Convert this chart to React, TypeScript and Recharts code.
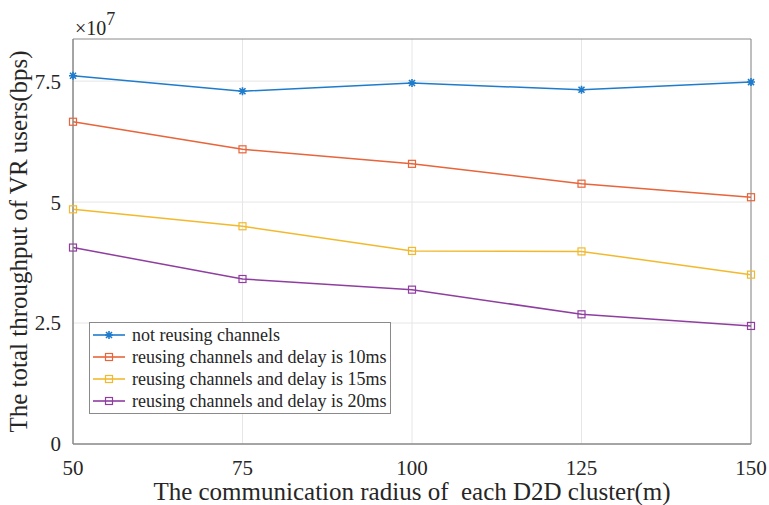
import {
  LineChart,
  Line,
  XAxis,
  YAxis,
  CartesianGrid,
  Label,
  ReferenceArea,
} from 'recharts'

// x: communication radius of each D2D cluster (m)
const radius = [50, 75, 100, 125, 150]
// y: total throughput, in units of 1e7 bps
const notReusing = [7.61, 7.29, 7.46, 7.32, 7.48]
const delay10 = [6.66, 6.09, 5.79, 5.38, 5.1]
const delay15 = [4.85, 4.5, 3.99, 3.98, 3.5]
const delay20 = [4.06, 3.41, 3.19, 2.68, 2.44]

const xTicks = [50, 75, 100, 125, 150]
const yTicks = [0, 2.5, 5, 7.5]
const yTop = 8.37

const SERIES = [
  { key: 'notReusing', label: 'not reusing channels', color: '#1f7ccc', marker: 'star', values: notReusing },
  { key: 'delay10', label: 'reusing channels and delay is 10ms', color: '#e8643a', marker: 'square', values: delay10 },
  { key: 'delay15', label: 'reusing channels and delay is 15ms', color: '#f2b92d', marker: 'square', values: delay15 },
  { key: 'delay20', label: 'reusing channels and delay is 20ms', color: '#8f3ea0', marker: 'square', values: delay20 },
]

const data = radius.map((r, i) => {
  const row: Record<string, number> = { r }
  SERIES.forEach((s) => {
    row[s.key] = s.values[i]
  })
  return row
})

const FONT = '"Liberation Serif", "Times New Roman", serif'
const TEXT = '#262626'
const tickStyle = { fill: TEXT, fontSize: 21, fontFamily: FONT }

function Marker({ cx, cy, color, kind }: { cx: number; cy: number; color: string; kind: string }) {
  if (cx == null || cy == null) return null
  if (kind === 'star') {
    const d = `M${cx - 4},${cy} L${cx + 4},${cy} M${cx},${cy - 4} L${cx},${cy + 4} M${cx - 3},${cy - 3} L${cx + 3},${cy + 3} M${cx - 3},${cy + 3} L${cx + 3},${cy - 3}`
    return <path d={d} stroke={color} strokeWidth={1.6} fill="none" />
  }
  return <rect x={cx - 3.5} y={cy - 3.5} width={7} height={7} stroke={color} strokeWidth={1.2} fill="none" />
}

function LegendBox() {
  return (
    <div
      style={{
        position: 'absolute',
        left: 89,
        top: 322,
        border: '1px solid #8a8a8a',
        background: '#fff',
        padding: '1px 4px 1px 2px',
        fontFamily: FONT,
        fontSize: 18,
        color: TEXT,
        lineHeight: '22px',
      }}
    >
      {SERIES.map((s) => (
        <div key={s.key} style={{ display: 'flex', alignItems: 'center', whiteSpace: 'nowrap' }}>
          <svg width={36} height={12} style={{ marginRight: 4 }}>
            <line x1={1} y1={6} x2={33} y2={6} stroke={s.color} strokeWidth={1.6} />
            <Marker cx={17} cy={6} color={s.color} kind={s.marker} />
          </svg>
          <span>{s.label}</span>
        </div>
      ))}
    </div>
  )
}

export default function App() {
  return (
    <div style={{ position: 'absolute', left: 0, top: 0, width: 769, height: 505, background: '#fff', fontFamily: FONT }}>
      <LineChart
        width={769}
        height={505}
        data={data}
        margin={{ top: 39, right: 18, bottom: 0, left: 0 }}
        style={{ fontFamily: FONT }}
      >
        <CartesianGrid stroke="#e6e6e6" strokeWidth={1} horizontalValues={yTicks} verticalValues={xTicks} />
        <XAxis
          dataKey="r"
          type="number"
          domain={[50, 150]}
          ticks={xTicks}
          height={61}
          axisLine={{ stroke: '#8a8a8a' }}
          tickLine={false}
          tick={{ ...tickStyle, style: { fontFamily: FONT } } as any}
          tickMargin={10}
        >
          <Label
            value={'The communication radius of \u00a0each D2D cluster(m)'}
            position="insideBottom"
            offset={5}
            style={{ fill: TEXT, fontSize: 25, fontFamily: FONT }}
          />
        </XAxis>
        <YAxis
          type="number"
          domain={[0, yTop]}
          ticks={yTicks}
          width={73}
          axisLine={{ stroke: '#8a8a8a' }}
          tickLine={false}
          tick={{ ...tickStyle, style: { fontFamily: FONT } } as any}
          tickMargin={6}
        >
          <Label
            value="The total throughput of VR users(bps)"
            angle={-90}
            position="insideLeft"
            offset={18}
            style={{ fill: TEXT, fontSize: 25, fontFamily: FONT, textAnchor: 'middle' }}
          />
        </YAxis>
        <ReferenceArea x1={50} x2={150} y1={0} y2={yTop} fill="none" stroke="#8a8a8a" strokeWidth={1} ifOverflow="visible" />
        {SERIES.map((s) => (
          <Line
            key={s.key}
            dataKey={s.key}
            name={s.label}
            type="linear"
            stroke={s.color}
            strokeWidth={1.5}
            isAnimationActive={false}
            dot={(p: any) => <Marker key={`${s.key}-${p.index}`} cx={p.cx} cy={p.cy} color={s.color} kind={s.marker} />}
            activeDot={false}
          />
        ))}
      </LineChart>
      <LegendBox />
      <div
        style={{
          position: 'absolute',
          left: 75,
          top: 16,
          fontSize: 20,
          color: TEXT,
          lineHeight: '24px',
          whiteSpace: 'nowrap',
        }}
      >
        ×10<span style={{ fontSize: 18, position: 'relative', top: -10 }}>7</span>
      </div>
    </div>
  )
}
